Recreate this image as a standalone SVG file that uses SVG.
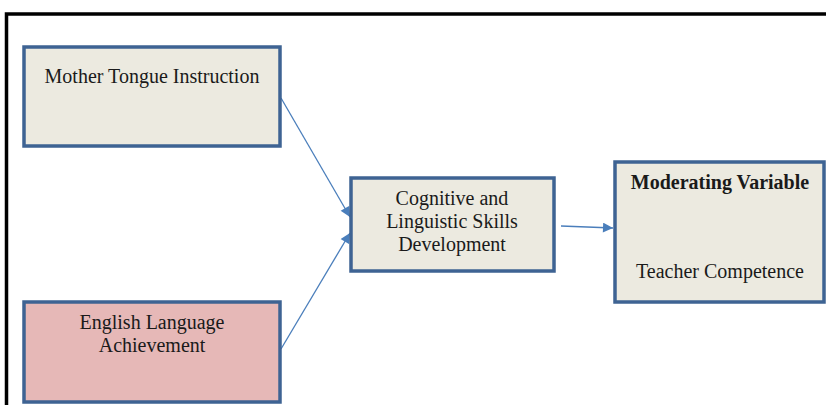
<svg xmlns="http://www.w3.org/2000/svg" width="826" height="405" viewBox="0 0 826 405">
<style>
.box{stroke:#3e6393;stroke-width:3.5}
.t{font-family:"Liberation Serif","Times New Roman",serif;font-size:20px;fill:#1a1a1a;text-anchor:middle}
.c{stroke:#4a7ebb;stroke-width:1.3;fill:none;marker-end:url(#ah)}
</style>
<defs>
<marker id="ah" viewBox="0 0 10 10" refX="10" refY="5" markerWidth="11" markerHeight="10" markerUnits="userSpaceOnUse" orient="auto">
<path d="M0,0 L10,5 L0,10 z" fill="#4a7ebb"/>
</marker>
</defs>
<rect width="826" height="405" fill="#fff"/>
<path d="M6.5,405 V14 H826" fill="none" stroke="#000" stroke-width="3.5"/>
<g id="connectors">
<line class="c" x1="281" y1="98" x2="350" y2="217"/>
<line class="c" x1="281" y1="349" x2="350" y2="233"/>
<line class="c" x1="561" y1="226" x2="613" y2="228"/>
</g>
<g id="mother-tongue">
<rect class="box" x="24" y="47" width="256" height="99" fill="#ECEAE0"/>
<text class="t" x="152" y="83">Mother Tongue Instruction</text>
</g>
<g id="english">
<rect class="box" x="24" y="302" width="256" height="100" fill="#E6B8B7"/>
<text class="t" x="152" y="329">English Language</text>
<text class="t" x="152" y="352">Achievement</text>
</g>
<g id="cognitive">
<rect class="box" x="351" y="178" width="203" height="93" fill="#ECEAE0"/>
<text class="t" x="452" y="205">Cognitive and</text>
<text class="t" x="452" y="228">Linguistic Skills</text>
<text class="t" x="452" y="251">Development</text>
</g>
<g id="moderating">
<rect class="box" x="615" y="162" width="209" height="140" fill="#ECEAE0"/>
<text class="t" x="720" y="189" font-weight="bold">Moderating Variable</text>
<text class="t" x="720" y="278">Teacher Competence</text>
</g>
</svg>
